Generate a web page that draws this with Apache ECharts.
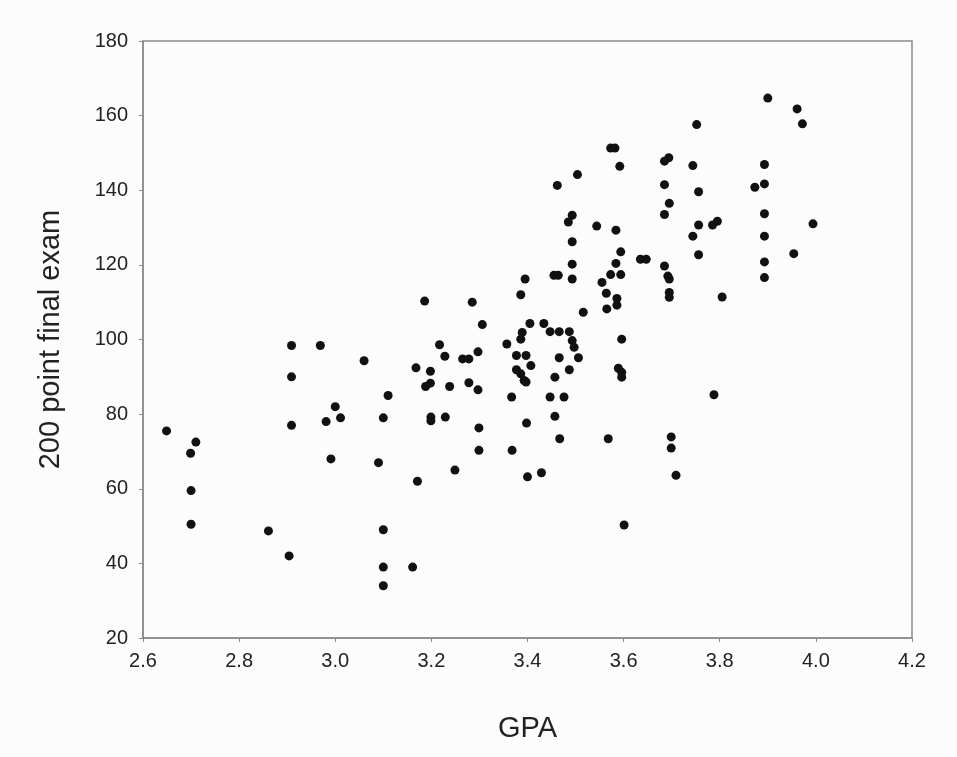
<!DOCTYPE html>
<html>
<head>
<meta charset="utf-8">
<script src="https://cdn.jsdelivr.net/npm/echarts@6/dist/echarts.min.js"></script>
<style>
  html, body { margin: 0; padding: 0; background: #fcfcfc; }
  #chart { width: 957px; height: 757px; }
</style>
</head>
<body>
<div id="chart"></div>
<script>
// GPA values (x) and 200 point final exam scores (y)
const gpa = [
  2.649, 2.699, 2.710, 2.700, 2.700, 2.861, 2.904, 2.909, 2.909, 2.909,
  2.969, 2.981, 2.991, 3.000, 3.011, 3.060, 3.090, 3.100, 3.110, 3.100,
  3.100, 3.100, 3.161, 3.168, 3.171, 3.186, 3.198, 3.188, 3.198, 3.199,
  3.199, 3.217, 3.228, 3.229, 3.238, 3.249, 3.285, 3.306, 3.265, 3.278,
  3.297, 3.278, 3.297, 3.299, 3.299, 3.357, 3.367, 3.368, 3.377, 3.397,
  3.377, 3.386, 3.393, 3.397, 3.386, 3.395, 3.389, 3.386, 3.405, 3.407,
  3.398, 3.400, 3.429, 3.434, 3.447, 3.466, 3.487, 3.493, 3.497, 3.455,
  3.464, 3.493, 3.493, 3.466, 3.506, 3.487, 3.457, 3.447, 3.476, 3.457,
  3.467, 3.516, 3.555, 3.564, 3.565, 3.573, 3.594, 3.584, 3.586, 3.586,
  3.596, 3.589, 3.596, 3.596, 3.568, 3.601, 3.900, 3.961, 3.972, 3.752,
  3.573, 3.582, 3.592, 3.504, 3.462, 3.685, 3.694, 3.744, 3.893, 3.685,
  3.756, 3.873, 3.893, 3.695, 3.685, 3.893, 3.994, 3.493, 3.485, 3.544,
  3.584, 3.756, 3.785, 3.795, 3.744, 3.893, 3.493, 3.594, 3.756, 3.954,
  3.635, 3.647, 3.685, 3.692, 3.695, 3.893, 3.893, 3.695, 3.695, 3.805,
  3.788, 3.699, 3.699, 3.709
];
const exam = [
  75.5, 69.5, 72.5, 59.5, 50.5, 48.7, 42.0, 98.4, 90.0, 77.0,
  98.4, 78.0, 68.0, 82.0, 79.0, 94.3, 67.0, 79.0, 85.0, 49.0,
  39.0, 34.0, 39.0, 92.4, 62.0, 110.3, 91.5, 87.4, 88.3, 79.2,
  78.2, 98.6, 95.5, 79.2, 87.4, 65.0, 110.0, 104.0, 94.8, 94.8,
  96.7, 88.4, 86.5, 76.3, 70.3, 98.8, 84.6, 70.3, 95.7, 95.7,
  91.9, 90.8, 89.0, 88.6, 112.0, 116.2, 101.9, 100.1, 104.3, 93.0,
  77.6, 63.2, 64.3, 104.3, 102.1, 102.1, 102.1, 99.7, 97.9, 117.2,
  117.2, 120.2, 116.2, 95.1, 95.1, 91.9, 89.9, 84.6, 84.6, 79.4,
  73.4, 107.3, 115.3, 112.4, 108.2, 117.4, 117.4, 120.4, 111.0, 109.2,
  100.1, 92.3, 91.2, 89.9, 73.4, 50.3, 164.7, 161.8, 157.8, 157.6,
  151.3, 151.3, 146.4, 144.2, 141.3, 147.8, 148.7, 146.6, 146.9, 141.5,
  139.6, 140.8, 141.7, 136.5, 133.5, 133.7, 131.0, 133.3, 131.5, 130.4,
  129.3, 130.7, 130.7, 131.7, 127.7, 127.7, 126.2, 123.5, 122.7, 123.0,
  121.5, 121.5, 119.7, 117.0, 116.2, 120.8, 116.6, 112.6, 111.3, 111.4,
  85.2, 73.9, 70.9, 63.6
];
const xTicks = { min: 2.6, max: 4.2, step: 0.2 };
const yTicks = { min: 20, max: 180, step: 20 };
const xName = 'GPA';
const yName = '200 point final exam';

const points = gpa.map((g, i) => [g, exam[i]]);
const font = "'Liberation Sans', Arial, Helvetica, sans-serif";
const axisLineColor = '#8a8a8a';

const chart = echarts.init(document.getElementById('chart'), null, { renderer: 'canvas' });
chart.setOption({
  backgroundColor: '#fcfcfc',
  animation: false,
  grid: {
    left: 143, right: 45, top: 41, bottom: 119,
    show: true, borderColor: axisLineColor, borderWidth: 1.5,
    backgroundColor: 'transparent'
  },
  xAxis: {
    type: 'value',
    min: xTicks.min, max: xTicks.max, interval: xTicks.step,
    name: xName, nameLocation: 'middle', nameGap: 76,
    nameTextStyle: { fontFamily: font, fontSize: 29, color: '#222' },
    axisLine: { show: true, lineStyle: { color: axisLineColor, width: 1.5 } },
    axisTick: { show: true, inside: false, length: 4, lineStyle: { color: axisLineColor } },
    splitLine: { show: false },
    axisLabel: {
      fontFamily: font, fontSize: 20, color: '#222', margin: 13,
      formatter: v => v.toFixed(1)
    }
  },
  yAxis: {
    type: 'value',
    min: yTicks.min, max: yTicks.max, interval: yTicks.step,
    name: yName, nameLocation: 'middle', nameGap: 78, nameRotate: 90,
    nameTextStyle: { fontFamily: font, fontSize: 29, color: '#222' },
    axisLine: { show: true, lineStyle: { color: axisLineColor, width: 1.5 } },
    axisTick: { show: true, inside: false, length: 4, lineStyle: { color: axisLineColor } },
    splitLine: { show: false },
    axisLabel: { fontFamily: font, fontSize: 20, color: '#222', margin: 15 }
  },
  series: [{
    type: 'scatter',
    data: points,
    symbol: 'circle',
    symbolSize: 9,
    itemStyle: { color: '#111', opacity: 1 }
  }]
});
</script>
</body>
</html>
